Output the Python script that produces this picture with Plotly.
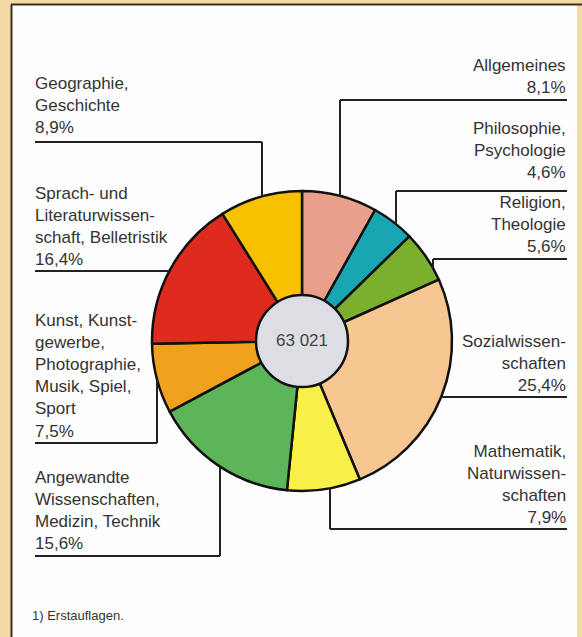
import math
import plotly.graph_objects as go

# Book production by subject group (first editions), shares in percent
categories = [
    "Allgemeines",
    "Philosophie, Psychologie",
    "Religion, Theologie",
    "Sozialwissenschaften",
    "Mathematik, Naturwissenschaften",
    "Angewandte Wissenschaften, Medizin, Technik",
    "Kunst, Kunstgewerbe, Photographie, Musik, Spiel, Sport",
    "Sprach- und Literaturwissenschaft, Belletristik",
    "Geographie, Geschichte",
]
shares = [8.1, 4.6, 5.6, 25.4, 7.9, 15.6, 7.5, 16.4, 8.9]
label_texts = [
    "Allgemeines",
    "Philosophie,<br>Psychologie",
    "Religion,<br>Theologie",
    "Sozialwissen-<br>schaften",
    "Mathematik,<br>Naturwissen-<br>schaften",
    "Angewandte<br>Wissenschaften,<br>Medizin, Technik",
    "Kunst, Kunst-<br>gewerbe,<br>Photographie,<br>Musik, Spiel,<br>Sport",
    "Sprach- und<br>Literaturwissen-<br>schaft, Belletristik",
    "Geographie,<br>Geschichte",
]
total_titles = "63 021"
footnote = "1) Erstauflagen."

colors = ["#e9a08a", "#17a6b2", "#7bb02e", "#f6c790", "#f8ef48",
          "#5db55a", "#f0a21e", "#df2a1e", "#f7c100"]

W, H = 582, 637
cx, cy, R = 302, 341, 150      # pie centre and radius in pixels
r_hole = 46


def px(x):
    return x / W


def py(y):
    return 1 - y / H


def fmt(v):
    return f"{v:.1f}".replace(".", ",") + "%"


fig = go.Figure()

fig.add_trace(go.Pie(
    labels=categories, values=shares, sort=False, direction="clockwise",
    rotation=0, textinfo="none", hoverinfo="label+percent",
    marker=dict(colors=colors, line=dict(color="#111111", width=2.5)),
    domain=dict(x=[px(cx - R), px(cx + R)], y=[py(cy + R), py(cy - R)]),
    showlegend=False,
))

# grey centre disc
fig.add_trace(go.Pie(
    labels=["Gesamt"], values=[1], textinfo="none", hoverinfo="skip",
    marker=dict(colors=["#dcdee4"], line=dict(color="#111111", width=2.5)),
    domain=dict(x=[px(cx - r_hole), px(cx + r_hole)],
                y=[py(cy + r_hole), py(cy - r_hole)]),
    showlegend=False,
))

shapes = []
# page background: white panel with dark frame on the left and top
shapes.append(dict(type="rect", xref="paper", yref="paper", layer="below",
                   x0=px(12), x1=px(577), y0=py(H + 5), y1=py(5),
                   fillcolor="#fefefe", line=dict(width=0)))
shapes.append(dict(type="line", xref="paper", yref="paper",
                   x0=px(11.5), x1=px(11.5), y0=py(H + 5), y1=py(4.5),
                   line=dict(color="#3a3022", width=2)))
shapes.append(dict(type="line", xref="paper", yref="paper",
                   x0=px(11), x1=px(W + 5), y0=py(4.5), y1=py(4.5),
                   line=dict(color="#3a3022", width=2)))


def circle_y(x, lower):
    d = math.sqrt(max(R * R - (x - cx) ** 2, 0))
    return cy + d if lower else cy - d


def circle_x(y, right):
    d = math.sqrt(max(R * R - (y - cy) ** 2, 0))
    return cx + d if right else cx - d


def seg(x0, y0, x1, y1):
    shapes.append(dict(type="line", xref="paper", yref="paper",
                       x0=px(x0), y0=py(y0), x1=px(x1), y1=py(y1),
                       line=dict(color="#222222", width=2)))


# leader lines: (side, underline y, vertical x or None, text centre y)
leaders = [
    ("right", 100, 340, 76.5),
    ("right", 191, 396, 150),
    ("right", 259, 433, 224),
    ("right", 397, None, 363.5),
    ("right", 529, 330, 484.5),
    ("left", 556, 220, 510.5),
    ("left", 443, 157, 376),
    ("left", 271, None, 226),
    ("left", 142, 262, 105.5),
]
LEFT_X, RIGHT_X = 35, 567

annotations = []
for text, val, (side, ly, vx, ty) in zip(label_texts, shares, leaders):
    if side == "right":
        if vx is None:
            seg(circle_x(ly, True), ly, RIGHT_X, ly)
        else:
            seg(vx, ly, RIGHT_X, ly)
            seg(vx, ly, vx, circle_y(vx, lower=ly > cy))
        annotations.append(dict(
            x=px(RIGHT_X + 1), y=py(ty), xref="paper", yref="paper",
            xanchor="right", yanchor="middle", align="right",
            text=f"{text}<br>{fmt(val)}", showarrow=False))
    else:
        if vx is None:
            seg(LEFT_X, ly, circle_x(ly, False), ly)
        else:
            seg(LEFT_X, ly, vx, ly)
            seg(vx, ly, vx, circle_y(vx, lower=ly > cy))
        annotations.append(dict(
            x=px(LEFT_X - 2), y=py(ty), xref="paper", yref="paper",
            xanchor="left", yanchor="middle", align="left",
            text=f"{text}<br>{fmt(val)}", showarrow=False))

annotations.append(dict(x=px(cx), y=py(cy), xref="paper", yref="paper",
                        text=total_titles, showarrow=False,
                        font=dict(size=17, color="#444444")))
annotations.append(dict(x=px(30), y=py(615), xref="paper", yref="paper",
                        xanchor="left", yanchor="middle", text=footnote,
                        showarrow=False, font=dict(size=13, color="#333333")))

fig.update_layout(
    width=W, height=H, margin=dict(l=0, r=0, t=0, b=0),
    paper_bgcolor="#f3d9a2", plot_bgcolor="#ffffff",
    font=dict(family="Liberation Sans, Arial, sans-serif", size=17,
              color="#333333"),
    shapes=shapes, annotations=annotations, showlegend=False,
)

fig.write_html("out.html")
